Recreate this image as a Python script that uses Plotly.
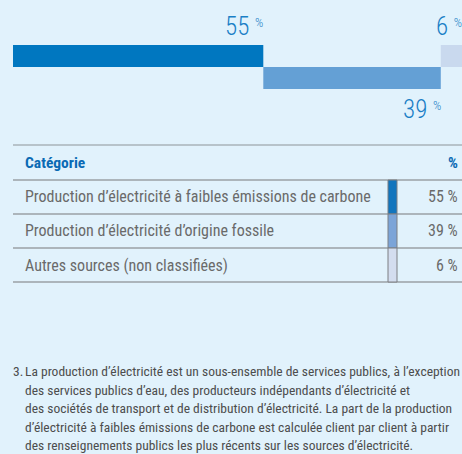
import plotly.graph_objects as go

W, H = 462, 454

# ---- data ----
categories = [
    "Production d’électricité à faibles émissions de carbone",
    "Production d’électricité d’origine fossile",
    "Autres sources (non classifiées)",
]
values = [55, 39, 6]
bar_colors = ["#0077c0", "#64a0d5", "#c9d9ee"]
swatch_colors = ["#1275bd", "#7ba4d8", "#d3ddef"]
header_labels = ["Catégorie", "%"]
footnote_num = "3."
footnote_lines = [
    "La production d’électricité est un sous-ensemble de services publics, à l’exception",
    "des services publics d’eau, des producteurs indépendants d’électricité et",
    "des sociétés de transport et de distribution d’électricité. La part de la production",
    "d’électricité à faibles émissions de carbone est calculée client par client à partir",
    "des renseignements publics les plus récents sur les sources d’électricité.",
]

# ---- styling ----
BG = "#e1f2fc"
FONT = "Roboto Condensed, DejaVu Sans Condensed, Roboto, sans-serif"
BLUE_TXT = "#1a7fc6"
HEAD_BLUE = "#0a6ab4"
GRAY_TXT = "#6a6a6a"
LINE_GRAY = "#9aa1a6"


def X(px):
    return px / W


def Y(py):
    return 1 - py / H


PX_PER_PCT = 250.3 / 55
x_left = 13
fig = go.Figure()

bases = []
acc = 0
for v in values:
    bases.append(acc)
    acc += v

for i, (c, v, b) in enumerate(zip(categories, values, bases)):
    fig.add_trace(go.Bar(
        orientation="h", x=[v], base=[b], y=[1 - (i % 2)], width=1,
        marker=dict(color=bar_colors[i], line=dict(width=0)),
        name=c, showlegend=False, hoverinfo="skip",
    ))
    top = (i % 2) == 0
    last = i == len(values) - 1
    fig.add_annotation(
        x=b if last else b + v, xref="x",
        y=1.5 if top else -0.5, yref="y",
        xanchor="left" if last else "right",
        yanchor="bottom" if top else "top",
        yshift=2 if top else -4,
        xshift=-7 if last else 2,
        text=f"{v} <span style='font-size:13px;baseline-shift:8px'>%</span>",
        showarrow=False,
        font=dict(family=FONT, size=25, color=BLUE_TXT, weight=300),
    )

fig.update_layout(
    width=W, height=H,
    margin=dict(l=0, r=0, t=0, b=0),
    paper_bgcolor=BG, plot_bgcolor=BG,
    barmode="overlay",
    xaxis=dict(domain=[X(x_left), 1], range=[0, (W - x_left) / PX_PER_PCT],
               visible=False, fixedrange=True),
    yaxis=dict(domain=[Y(89), Y(45)], range=[-0.5, 1.5], visible=False,
               fixedrange=True),
)

# ---- table ----
row_lines = [180, 214, 248, 282]
fig.add_shape(type="line", xref="paper", yref="paper", x0=X(13), x1=1,
              y0=Y(145), y1=Y(145), line=dict(color="#a9b3ba", width=1.5))
for yl in row_lines:
    fig.add_shape(type="line", xref="paper", yref="paper", x0=X(13), x1=1,
                  y0=Y(yl), y1=Y(yl), line=dict(color=LINE_GRAY, width=1.5))

fig.add_annotation(x=X(23), y=Y(163), xref="paper", yref="paper",
                   xanchor="left", yanchor="middle", showarrow=False,
                   text=f"<b>{header_labels[0]}</b>",
                   font=dict(family=FONT, size=15.5, color=HEAD_BLUE))
fig.add_annotation(x=X(460), y=Y(163), xref="paper", yref="paper",
                   xanchor="right", yanchor="middle", showarrow=False,
                   text=f"<b>{header_labels[1]}</b>",
                   font=dict(family=FONT, size=15.5, color=HEAD_BLUE))

for i, (c, v) in enumerate(zip(categories, values)):
    y0, y1 = row_lines[i], row_lines[i + 1]
    yc = (y0 + y1) / 2
    fig.add_annotation(x=X(23), y=Y(yc), xref="paper", yref="paper",
                       xanchor="left", yanchor="middle", showarrow=False,
                       text=c, font=dict(family=FONT, size=16, color=GRAY_TXT))
    fig.add_annotation(x=X(460), y=Y(yc), xref="paper", yref="paper",
                       xanchor="right", yanchor="middle", showarrow=False,
                       text=f"{v} %", font=dict(family=FONT, size=16, color=GRAY_TXT))
    fig.add_shape(type="rect", xref="paper", yref="paper",
                  x0=X(388), x1=X(397), y0=Y(y1), y1=Y(y0),
                  fillcolor=swatch_colors[i], line=dict(color="#7d7f82", width=1))

# ---- footnote ----
FN_Y0, FN_STEP = 371, 18.5
fig.add_annotation(x=X(11), y=Y(FN_Y0), xref="paper", yref="paper",
                   xanchor="left", yanchor="middle", showarrow=False,
                   text=footnote_num, font=dict(family=FONT, size=13.5, color="#4d4d4d"))
for k, line in enumerate(footnote_lines):
    fig.add_annotation(x=X(23), y=Y(FN_Y0 + k * FN_STEP), xref="paper", yref="paper",
                       xanchor="left", yanchor="middle", showarrow=False, align="left",
                       text=line,
                       font=dict(family=FONT, size=13.5, color="#4d4d4d"))

fig.write_html(
    "out.html",
    config={"displayModeBar": False},
    post_script="document.body.style.margin='0';document.body.style.overflow='hidden';",
)
